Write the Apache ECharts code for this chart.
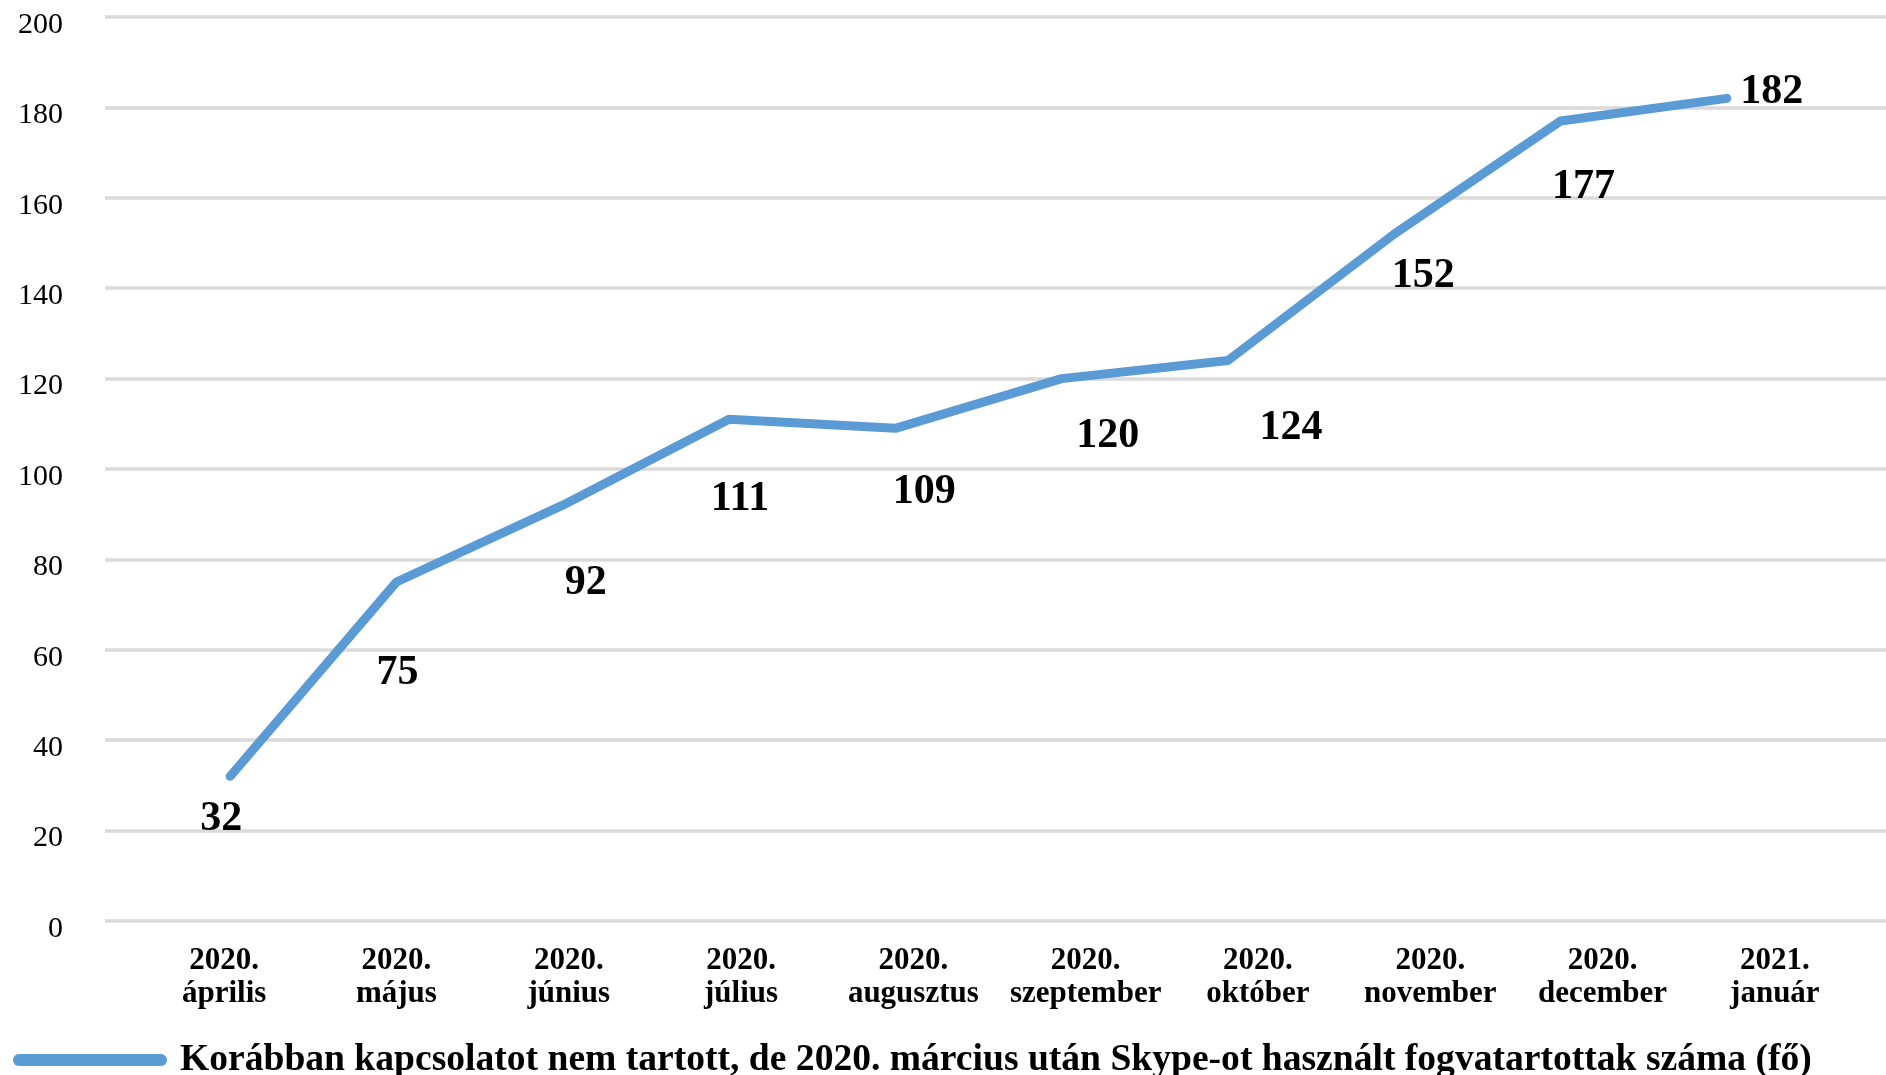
<!DOCTYPE html>
<html>
<head>
<meta charset="utf-8">
<script src="https://cdn.jsdelivr.net/npm/echarts@6/dist/echarts.min.js"></script>
<style>
html,body{margin:0;padding:0;background:#fff;}
#chart{width:1886px;height:1075px;}
</style>
</head>
<body>
<div id="chart"></div>
<script>
const categories = ['2020.\náprilis','2020.\nmájus','2020.\njúnius','2020.\njúlius','2020.\naugusztus','2020.\nszeptember','2020.\noktóber','2020.\nnovember','2020.\ndecember','2021.\njanuár'];
const values = [32, 75, 92, 111, 109, 120, 124, 152, 177, 182];
const seriesName = 'Korábban kapcsolatot nem tartott, de 2020. március után Skype-ot használt fogvatartottak száma (fő)';
const yMin = 0, yMax = 200, yStep = 20;
// label placement (pixel offsets from each point, as in the original)
const labelOffsets = [[-9,43],[1,91],[23,78],[11,80],[29,64],[46,58],[63,68],[29,42],[23,66],[45,-6]];

const FONT = '"Liberation Serif", "Times New Roman", serif';
const BLUE = '#5B9BD5';
const TOP = 17, BOTTOM = 154;

const chart = echarts.init(document.getElementById('chart'));
const seriesData = values.map((v, i) => ({
  value: v,
  label: { offset: labelOffsets[i] }
}));

chart.setOption({
  animation: false,
  backgroundColor: '#ffffff',
  grid: [
    { left: 105, right: 0, top: TOP, bottom: BOTTOM },
    { left: 138, right: 25, top: TOP, bottom: BOTTOM },
    { left: 147, right: 76, top: TOP, bottom: BOTTOM }
  ],
  xAxis: [
    { gridIndex: 0, type: 'category', data: categories, show: false },
    { gridIndex: 1, type: 'category', data: categories,
      axisLine: { show: false }, axisTick: { show: false }, splitLine: { show: false },
      axisLabel: { interval: 0, margin: 23, fontFamily: FONT, fontWeight: 'bold', fontSize: 31, lineHeight: 33, color: '#000' } },
    { gridIndex: 2, type: 'category', data: categories, show: false }
  ],
  yAxis: [
    { gridIndex: 0, type: 'value', min: yMin, max: yMax, interval: yStep,
      axisLine: { show: false }, axisTick: { show: false },
      splitLine: { show: true, lineStyle: { color: '#DADADA', width: 3.5 } },
      axisLabel: { margin: 42, fontFamily: FONT, fontSize: 30, color: '#000', verticalAlign: 'top', lineHeight: 16 } },
    { gridIndex: 1, type: 'value', min: yMin, max: yMax, interval: yStep, show: false },
    { gridIndex: 2, type: 'value', min: yMin, max: yMax, interval: yStep, show: false }
  ],
  legend: {
    left: 13, top: 1041, padding: 0,
    itemWidth: 154, itemHeight: 12,
    icon: 'path://M6,0 L148,0 A6,6 0 0 1 148,12 L6,12 A6,6 0 0 1 6,0 Z',
    itemStyle: { color: BLUE, opacity: 1 },
    textStyle: { fontFamily: FONT, fontWeight: 'bold', fontSize: 37.6, color: '#000', padding: [0, 0, 0, 8] },
    data: [seriesName]
  },
  series: [{
    name: seriesName,
    type: 'line',
    xAxisIndex: 2, yAxisIndex: 2,
    data: seriesData,
    showSymbol: true,
    symbol: 'circle',
    symbolSize: 1,
    itemStyle: { color: BLUE },
    lineStyle: { color: BLUE, width: 9, cap: 'round', join: 'round' },
    label: {
      show: true, position: 'inside', align: 'center', verticalAlign: 'middle',
      fontFamily: FONT, fontWeight: 'bold', fontSize: 42, color: '#000'
    },
    emphasis: { disabled: true }
  }]
});
</script>
</body>
</html>
